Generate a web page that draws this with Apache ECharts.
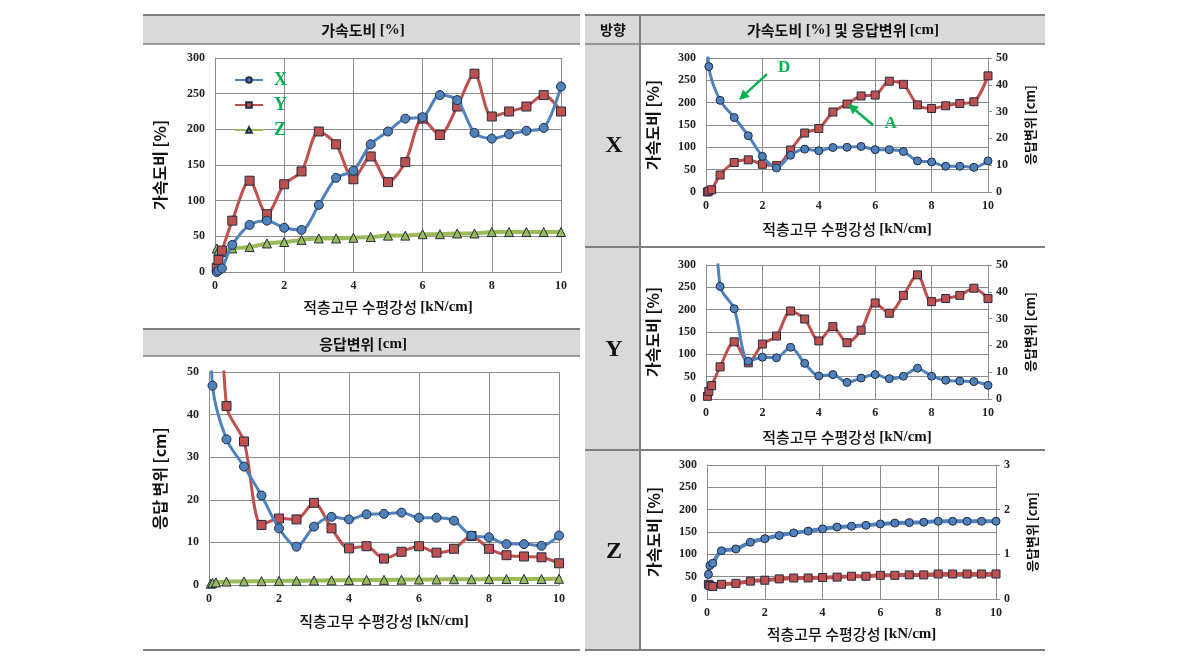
<!DOCTYPE html>
<html><head><meta charset="utf-8">
<script src="https://cdn.jsdelivr.net/npm/echarts@6/dist/echarts.min.js"></script>
<style>html,body{margin:0;padding:0;background:#fff}#c{width:1190px;height:670px}</style>
</head><body><div id="c"></div>
<script>
// ---- data ----
const stiffness = [0.05,0.1,0.2,0.5,1,1.5,2,2.5,3,3.5,4,4.5,5,5.5,6,6.5,7,7.5,8,8.5,9,9.5,10];
const accelX = [0,2,5,38,66,72,62,59,94,132,142,179,197,215,217,248,241,195,187,193,198,202,260];
const accelY = [6,17,30,72,128,81,123,141,197,179,130,162,126,154,215,192,232,278,218,225,232,248,225];
const accelZ = [33,30,28,33,35,40,42,45,47,47,48,49,51,51,53,53,54,54,56,56,56,56,56];
const dispX  = [62,46.8,null,34.2,27.8,21.0,13.3,9.0,13.7,16.0,15.4,16.6,16.7,17.0,15.8,15.8,15.1,11.6,11.2,9.6,9.6,9.2,11.6];
const dispY  = [160,130,100,42.0,33.7,14.1,15.6,15.4,19.3,13.3,8.6,9.1,6.2,7.8,9.1,7.6,8.5,11.5,8.5,7.0,6.7,6.5,5.1];
const dispZ  = [0.3,0.5,0.6,0.8,0.85,0.9,0.95,1.0,1.05,1.1,1.15,1.2,1.2,1.25,1.3,1.3,1.35,1.35,1.4,1.4,1.4,1.4,1.45];
const dispZrow = [0.55,0.75,0.8,1.08,1.12,1.27,1.35,1.42,1.48,1.52,1.57,1.61,1.63,1.65,1.68,1.70,1.71,1.72,1.74,1.74,1.74,1.74,1.74];
const legendNames = ['X','Y','Z'];
// annotation arrows in X-row panel (data space: stiffness, accel ratio)
const arrowD = [[2.16,264],[1.17,206]];
const arrowA = [[5.92,150],[5.04,197]];
const labelD = [2.77,279];
const labelA = [6.55,153];

const BLUE='#4f81bd', RED='#c0504d', GREEN='#9bbb59', EDGE='#1f2d45', GRID='#8c8c8c', TAB='#7f7f7f', FILL='#d9d9d9', ANN='#00b050';
const KR='"Noto Sans CJK KR", sans-serif', SERIF='"Liberation Serif", serif';

function pts(arr){ return stiffness.map((x,i)=>[x, arr[i]]); }

const tickLabel = {fontFamily:SERIF, fontWeight:'bold', fontSize:12, color:'#222'};
const xTitleRich = {
  k:{fontFamily:KR, fontWeight:500, fontSize:15, color:'#111'},
  e:{fontFamily:SERIF, fontWeight:'bold', fontSize:15, color:'#111'}
};
function xAxis(gi, name, gap){
  return {type:'value', gridIndex:gi, min:0, max:10, interval:2,
    axisLine:{show:true, onZero:false, lineStyle:{color:GRID}}, axisTick:{show:false},
    splitLine:{show:true, lineStyle:{color:GRID, width:1}},
    axisLabel:Object.assign({margin:8}, tickLabel),
    name:'{k|'+name+' }{e|[kN/cm]}', nameLocation:'middle', nameGap:gap,
    nameTextStyle:{rich:xTitleRich}};
}
function yLeft(gi, max, interval, name, gap){
  return {type:'value', gridIndex:gi, min:0, max:max, interval:interval, position:'left',
    axisLine:{show:true, lineStyle:{color:GRID}}, axisTick:{show:false},
    splitLine:{show:true, lineStyle:{color:GRID, width:1}},
    axisLabel:Object.assign({margin:10}, tickLabel),
    name:name, nameLocation:'middle', nameGap:gap, nameRotate:90,
    nameTextStyle:{fontFamily:KR, fontWeight:'bold', fontSize:16, color:'#111'}};
}
function yRight(gi, max, interval, gap){
  return {type:'value', gridIndex:gi, min:0, max:max, interval:interval, position:'right',
    axisLine:{show:true, lineStyle:{color:GRID}},
    axisTick:{show:true, inside:false, length:4, lineStyle:{color:GRID}},
    splitLine:{show:false},
    axisLabel:Object.assign({margin:8}, tickLabel),
    name:'응답변위 [cm]', nameLocation:'middle', nameGap:gap, nameRotate:90,
    nameTextStyle:{fontFamily:KR, fontWeight:'bold', fontSize:13, color:'#111'}};
}
function line(name, arr, color, symbol, size, xi, yi, width){
  return {type:'line', name:name, data:pts(arr), xAxisIndex:xi, yAxisIndex:yi,
    smooth:0.3, connectNulls:true, clip:true, symbol:symbol, symbolSize:size, showSymbol:true,
    lineStyle:{color:color, width:width||3},
    itemStyle:{color:color, borderColor:EDGE, borderWidth:1},
    emphasis:{disabled:true}, animation:false, z:symbol==='circle'?3:2};
}

const grids = [
  {left:215, top:58, width:346, height:214},
  {left:209, top:372, width:350, height:213},
  {left:706, top:58, width:282, height:134},
  {left:706, top:265, width:282, height:134},
  {left:707, top:465, width:289, height:134}
];

const sX = line('dispXr', dispX, BLUE, 'circle', 8, 2, 3);
const sAX = line('accelXr', accelX, RED, 'rect', 8, 2, 2);
sAX.markPoint = {silent:true, animation:false, symbol:'circle', symbolSize:1, itemStyle:{color:'rgba(0,0,0,0)'},
  label:{show:true, position:'inside', fontFamily:SERIF, fontWeight:'bold', fontSize:17, color:ANN, formatter:p=>p.name},
  data:[{name:'D', coord:labelD},{name:'A', coord:labelA}]};

const hdrRich = {k:{fontFamily:KR,fontWeight:'bold',fontSize:15,fill:'#111'}, e:{fontFamily:SERIF,fontWeight:'bold',fontSize:15,fill:'#111'}};
const tableGraphics = [
    // left table
    {type:'rect', shape:{x:143,y:15,width:437,height:29}, style:{fill:FILL}, z:-10},
    {type:'rect', shape:{x:143,y:330,width:437,height:26}, style:{fill:FILL}, z:-10},
    {type:'line', shape:{x1:143,y1:15,x2:580,y2:15}, style:{stroke:TAB,lineWidth:2}},
    {type:'line', shape:{x1:143,y1:44,x2:580,y2:44}, style:{stroke:TAB,lineWidth:1.5}},
    {type:'line', shape:{x1:143,y1:329,x2:580,y2:329}, style:{stroke:TAB,lineWidth:2}},
    {type:'line', shape:{x1:143,y1:356,x2:580,y2:356}, style:{stroke:TAB,lineWidth:1.5}},
    {type:'line', shape:{x1:143,y1:650,x2:580,y2:650}, style:{stroke:TAB,lineWidth:2}},
    // right table
    {type:'rect', shape:{x:585,y:15,width:55,height:635}, style:{fill:FILL}, z:-10},
    {type:'rect', shape:{x:640,y:15,width:405,height:29}, style:{fill:FILL}, z:-10},
    {type:'line', shape:{x1:585,y1:15,x2:1045,y2:15}, style:{stroke:TAB,lineWidth:2}},
    {type:'line', shape:{x1:585,y1:44,x2:1045,y2:44}, style:{stroke:TAB,lineWidth:1.5}},
    {type:'line', shape:{x1:585,y1:247,x2:1045,y2:247}, style:{stroke:TAB,lineWidth:2}},
    {type:'line', shape:{x1:585,y1:450,x2:1045,y2:450}, style:{stroke:TAB,lineWidth:2}},
    {type:'line', shape:{x1:585,y1:650,x2:1045,y2:650}, style:{stroke:TAB,lineWidth:2}},
    {type:'line', shape:{x1:640,y1:15,x2:640,y2:650}, style:{stroke:TAB,lineWidth:2}},
    // header texts
    {type:'text', x:363, y:30, style:{text:'{k|가속도비 }{e|[%]}', align:'center', verticalAlign:'middle', rich:hdrRich}},
    {type:'text', x:363, y:344, style:{text:'{k|응답변위 }{e|[cm]}', align:'center', verticalAlign:'middle', rich:hdrRich}},
    {type:'text', x:843, y:30, style:{text:'{k|가속도비 }{e|[%]}{k| 및 응답변위 }{e|[cm]}', align:'center', verticalAlign:'middle', rich:hdrRich}},
    {type:'text', x:613, y:30, style:{text:'방향', align:'center', verticalAlign:'middle', fontFamily:KR, fontWeight:'bold', fontSize:14, fill:'#111'}},
    {type:'text', x:614, y:146, style:{text:'X', align:'center', verticalAlign:'middle', fontFamily:SERIF, fontWeight:'bold', fontSize:24, fill:'#111'}},
    {type:'text', x:614, y:350, style:{text:'Y', align:'center', verticalAlign:'middle', fontFamily:SERIF, fontWeight:'bold', fontSize:24, fill:'#111'}},
    {type:'text', x:614, y:552, style:{text:'Z', align:'center', verticalAlign:'middle', fontFamily:SERIF, fontWeight:'bold', fontSize:24, fill:'#111'}}
];

const option = {
  backgroundColor:'#fff',
  animation:false,
  grid:grids,
  legend:{data:legendNames, orient:'vertical', left:229, top:66, itemWidth:28, itemHeight:7, itemGap:7,
    textStyle:{color:ANN, fontFamily:SERIF, fontWeight:'bold', fontSize:18, padding:[0,0,0,6]}, selectedMode:false},
  xAxis:[
    xAxis(0,'적층고무 수평강성',28),
    xAxis(1,'직층고무 수평강성',29),
    xAxis(2,'적층고무 수평강성',30),
    xAxis(3,'적층고무 수평강성',31),
    xAxis(4,'적층고무 수평강성',28)
  ],
  yAxis:[
    yLeft(0,300,50,'가속도비 [%]',47),
    yLeft(1,50,10,'응답 변위 [cm]',41),
    yLeft(2,300,50,'가속도비 [%]',45),
    yRight(2,50,10,36),
    yLeft(3,300,50,'가속도비 [%]',45),
    yRight(3,50,10,36),
    yLeft(4,300,50,'가속도비 [%]',45),
    yRight(4,3,1,30)
  ],
  series:[
    line('Z', accelZ, GREEN, 'triangle', 9, 0, 0, 4),
    line('Y', accelY, RED, 'rect', 9, 0, 0),
    line('X', accelX, BLUE, 'circle', 9, 0, 0),
    line('dZ', dispZ, GREEN, 'triangle', 9, 1, 1, 4),
    line('dY', dispY, RED, 'rect', 9, 1, 1),
    line('dX', dispX, BLUE, 'circle', 9, 1, 1),
    sAX, sX,
    line('accelYr', accelY, RED, 'rect', 8, 3, 4),
    line('dispYr', dispY, BLUE, 'circle', 8, 3, 5),
    line('accelZr', accelZ, RED, 'rect', 8, 4, 6, 4),
    line('dispZr', dispZrow, BLUE, 'circle', 8, 4, 7, 4)
  ],
  graphic:tableGraphics
};
const chart = echarts.init(document.getElementById('c'), null, {renderer:'canvas'});
chart.setOption(option);

// annotation arrows: positions converted through the X-row grid's axes
function arrowGraphics(a){
  const p0 = chart.convertToPixel({xAxisIndex:2, yAxisIndex:2}, a[0]);
  const p1 = chart.convertToPixel({xAxisIndex:2, yAxisIndex:2}, a[1]);
  const dx = p1[0]-p0[0], dy = p1[1]-p0[1], L = Math.hypot(dx,dy);
  const ux = dx/L, uy = dy/L, hl = 10, hw = 5;
  const bx = p1[0]-ux*hl, by = p1[1]-uy*hl;
  return [
    {type:'line', shape:{x1:p0[0],y1:p0[1],x2:bx,y2:by}, style:{stroke:ANN, lineWidth:2.5}, z:50},
    {type:'polygon', shape:{points:[[p1[0],p1[1]],[bx-uy*hw,by+ux*hw],[bx+uy*hw,by-ux*hw]]}, style:{fill:ANN}, z:50}
  ];
}
chart.setOption({graphic:tableGraphics.concat(arrowGraphics(arrowD), arrowGraphics(arrowA))});
</script>
</body></html>
